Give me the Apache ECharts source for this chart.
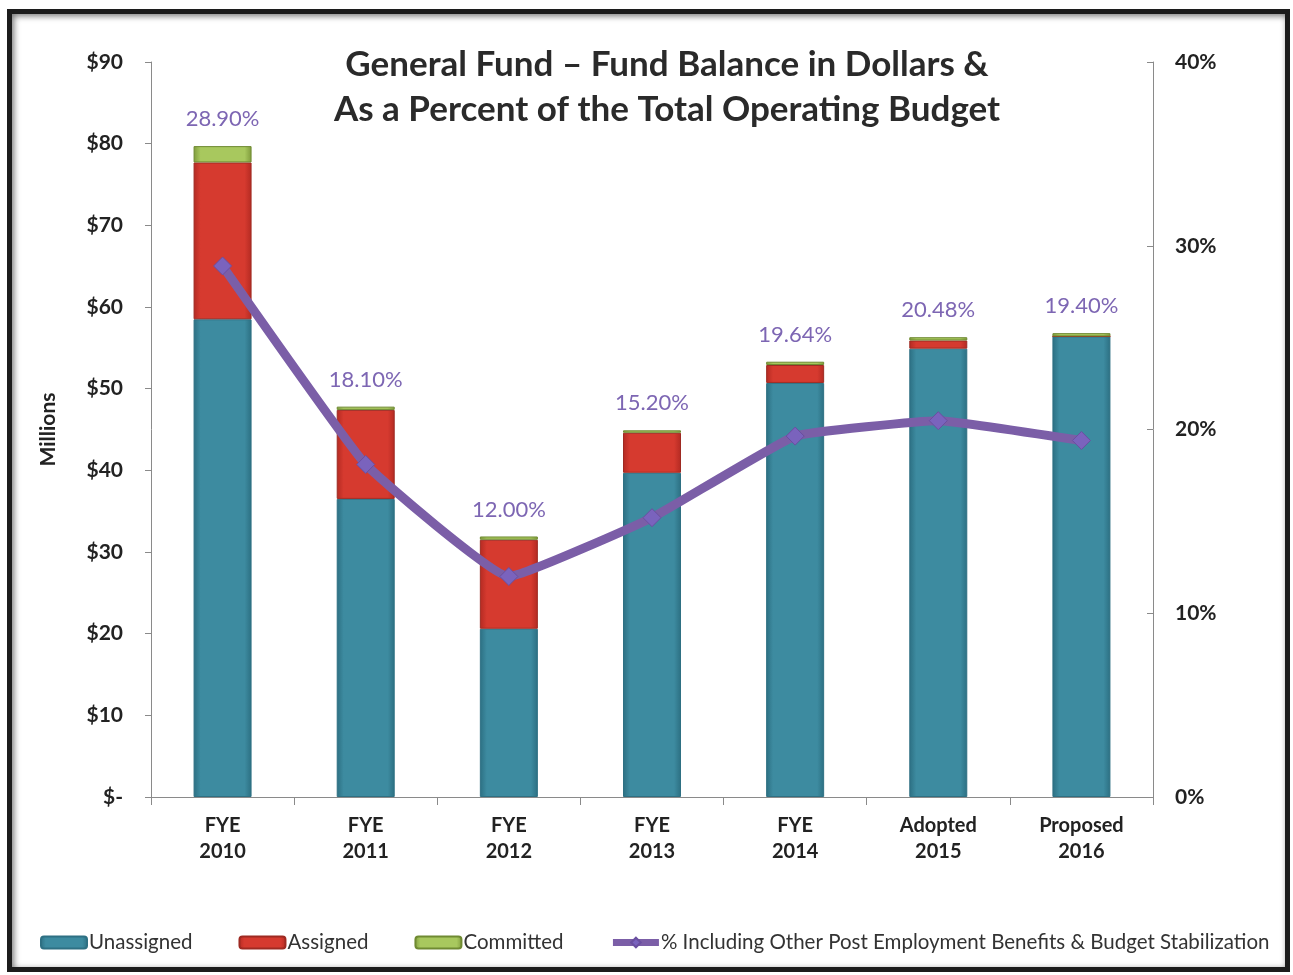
<!DOCTYPE html>
<html>
<head>
<meta charset="utf-8">
<script src="https://cdn.jsdelivr.net/npm/echarts@6/dist/echarts.min.js"></script>
<style>
html,body{margin:0;padding:0;background:#fff;}
#frame{position:absolute;left:7px;top:9px;width:1273px;height:953px;border:5px solid #1c1c1c;box-shadow:inset 2px 2px 6px #777;background:#fff;}
#chart{position:absolute;left:0;top:0;width:1293px;height:975px;}
</style>
</head>
<body>
<div id="frame"></div>
<div id="chart"></div>
<script>
var categories = ['FYE\n2010','FYE\n2011','FYE\n2012','FYE\n2013','FYE\n2014','Adopted\n2015','Proposed\n2016'];
var unassigned = [58.5, 36.5, 20.6, 39.7, 50.7, 54.9, 56.4];
var assigned   = [19.2, 10.9, 10.9, 4.9, 2.2, 1.0, 0.0];
var committed  = [2.0, 0.4, 0.4, 0.3, 0.4, 0.4, 0.4];
var percentIncl = [28.90, 18.10, 12.00, 15.20, 19.64, 20.48, 19.40];
var percentLabels = ['28.90%','18.10%','12.00%','15.20%','19.64%','20.48%','19.40%'];
var leftTicks = {min:0, max:90, interval:10};
var rightTicks = {min:0, max:40, interval:10};

function grad(edge, mid){
  return new echarts.graphic.LinearGradient(0,0,1,0,[
    {offset:0,color:edge},{offset:0.12,color:mid},{offset:0.88,color:mid},{offset:1,color:edge}
  ]);
}
var chart = echarts.init(document.getElementById('chart'));
var font = 'Lato, "Open Sans", sans-serif';
var lineName = '% Including Other Post Employment Benefits & Budget Stabilization';
chart.setOption({
  animation:false,
  textStyle:{fontFamily:font},
  title:{
    text:'General Fund \u2013 Fund Balance in Dollars &\nAs a Percent of the Total Operating Budget',
    left:662, top:37, textAlign:'center',
    textStyle:{fontFamily:font,fontSize:35,fontWeight:'bold',color:'#2a2a2a',lineHeight:45}
  },
  legend:{
    left:35, top:927, itemWidth:46, itemHeight:12, itemGap:46,
    textStyle:{fontFamily:font,fontSize:20.5,color:'#333',padding:[0,0,0,-3]},
    data:['Unassigned','Assigned','Committed',
      {name:lineName, lineStyle:{width:7,color:'#7b5ea7'}}]
  },
  grid:{left:151, right:140, top:62, bottom:178},
  xAxis:{
    type:'category', data:categories,
    axisLine:{lineStyle:{color:'#8a8a8a',width:1}},
    axisTick:{show:true,alignWithLabel:false,length:8,lineStyle:{color:'#8a8a8a'}},
    axisLabel:{fontFamily:font,fontSize:20,fontWeight:'bold',color:'#222',lineHeight:26,margin:16}
  },
  yAxis:[{
    type:'value', min:leftTicks.min, max:leftTicks.max, interval:leftTicks.interval,
    name:'Millions', nameLocation:'middle', nameGap:92, nameRotate:90,
    nameTextStyle:{fontFamily:font,fontSize:21,fontWeight:'bold',color:'#222'},
    axisLine:{show:true,lineStyle:{color:'#8a8a8a'}},
    axisTick:{show:true,length:6,lineStyle:{color:'#8a8a8a'}},
    splitLine:{show:false},
    axisLabel:{fontFamily:font,fontSize:21,fontWeight:'bold',color:'#222',margin:28,
      formatter:function(v){return v===0?'$-':'$'+v;}}
  },{
    type:'value', min:rightTicks.min, max:rightTicks.max, interval:rightTicks.interval,
    axisLine:{show:true,lineStyle:{color:'#8a8a8a'}},
    axisTick:{show:true,inside:true,length:6,lineStyle:{color:'#8a8a8a'}},
    splitLine:{show:false},
    axisLabel:{fontFamily:font,fontSize:21,fontWeight:'bold',color:'#222',margin:22,
      formatter:function(v){return v+'%';}}
  }],
  series:[
    {name:'Unassigned',type:'bar',stack:'fb',barWidth:58,data:unassigned,
     itemStyle:{color:grad('#2c6f82','#3d8ba0'),borderColor:'#2e7083',borderWidth:1},
     emphasis:{disabled:true}},
    {name:'Assigned',type:'bar',stack:'fb',barWidth:58,data:assigned,
     itemStyle:{color:grad('#b32a22','#d63a2f'),borderColor:'#9e2a22',borderWidth:1},
     emphasis:{disabled:true}},
    {name:'Committed',type:'bar',stack:'fb',barWidth:58,data:committed,
     itemStyle:{color:grad('#7f9b3c','#a8c85e'),borderColor:'#6f8a32',borderWidth:1},
     label:{show:true,position:'top',distance:16,fontFamily:font,fontSize:22,color:'#7d66b3',
       formatter:function(p){return percentLabels[p.dataIndex];}},
     emphasis:{disabled:true}},
    {name:lineName,type:'line',yAxisIndex:1,
     data:percentIncl, smooth:0.1, symbol:'diamond', symbolSize:18, z:5,
     lineStyle:{color:'#7b5ea7',width:9},
     itemStyle:{color:'#7a63bd',borderColor:'#6a4fa0',borderWidth:1},
     emphasis:{disabled:true}}
  ]
});
</script>
</body>
</html>
